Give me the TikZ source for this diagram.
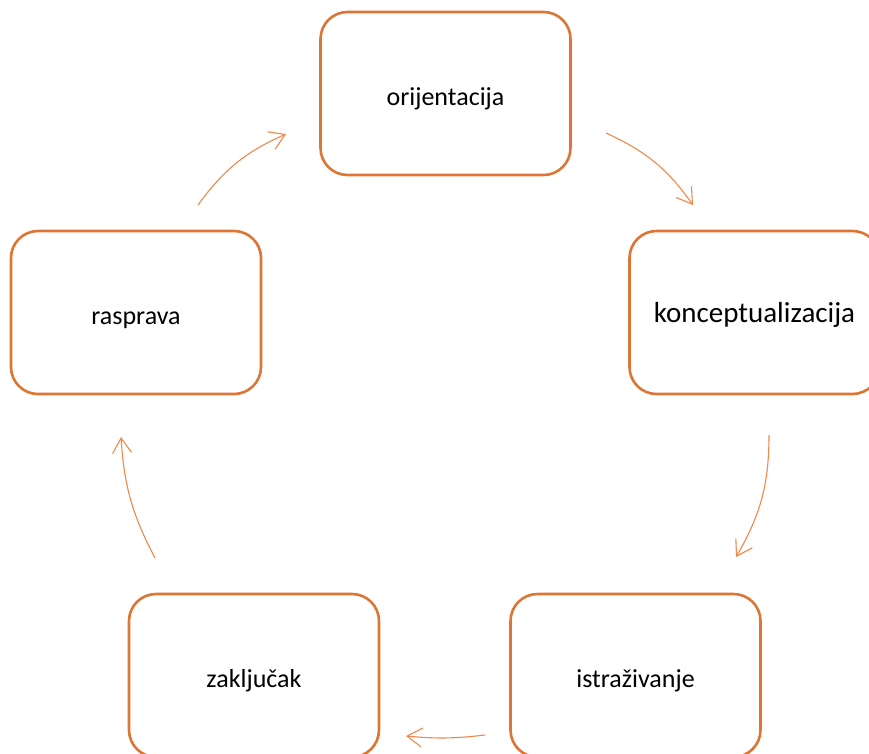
\documentclass[tikz,border=0pt]{standalone}
\usepackage{fontspec}
\setmainfont{Carlito}
\usetikzlibrary{arrows.meta}
\definecolor{boxorange}{HTML}{DD7535}
\definecolor{arroworange}{HTML}{EF8848}
\begin{document}
\begin{tikzpicture}[x=1pt,y=-1pt,
  stage/.style={draw=boxorange, line width=2.6pt, rounded corners=27pt,
    minimum width=250pt, minimum height=163pt, text height=30pt, text depth=7pt,
    font=\fontsize{26}{30}\selectfont},
  flow/.style={draw=arroworange, line width=1.1pt,
    -{Straight Barb[length=15pt,width=19pt,line width=1.1pt]}}]
  \useasboundingbox (0,0) rectangle (869,753);
  \node[stage] (orient) at (445.5,93.5) {orijentacija};
  \node[stage, text height=26pt, font=\fontsize{29}{33}\selectfont] (konc) at (754.5,312.5) {konceptualizacija};
  \node[stage] (istr) at (635.5,675.5) {istraživanje};
  \node[stage] (zakl) at (254,675.5) {zaključak};
  \node[stage] (rasp) at (136,312.5) {rasprava};

  \coordinate (ok1) at (606,133);
  \coordinate (ok2) at (693,205);
  \coordinate (ki1) at (769,435);
  \coordinate (ki2) at (736,557);
  \coordinate (iz1) at (485,735);
  \coordinate (iz2) at (406,736);
  \coordinate (zr1) at (155,558);
  \coordinate (zr2) at (121,437);
  \coordinate (ro1) at (198,205);
  \coordinate (ro2) at (286,134);

  \draw[flow] (ok1) to[bend left=15] (ok2);
  \draw[flow] (ki1) to[bend left=15] (ki2);
  \draw[flow] (iz1) to[bend left=6] (iz2);
  \draw[flow] (zr1) to[bend left=12] (zr2);
  \draw[flow] (ro1) to[bend left=15] (ro2);
\end{tikzpicture}
\end{document}
